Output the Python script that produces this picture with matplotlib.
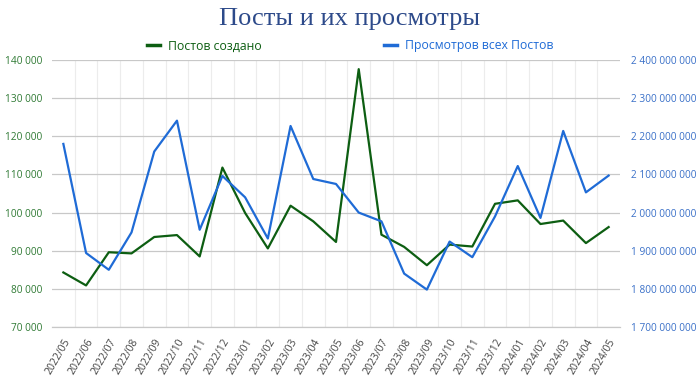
import matplotlib as mpl
mpl.use('Agg')
import matplotlib.pyplot as plt
from matplotlib.ticker import FuncFormatter, MultipleLocator

months = ["2022/05", "2022/06", "2022/07", "2022/08", "2022/09", "2022/10", "2022/11",
          "2022/12", "2023/01", "2023/02", "2023/03", "2023/04", "2023/05", "2023/06",
          "2023/07", "2023/08", "2023/09", "2023/10", "2023/11", "2023/12", "2024/01",
          "2024/02", "2024/03", "2024/04", "2024/05"]

posts = [84300, 80900, 89600, 89300, 93600, 94100, 88500, 111800, 99900, 90600,
         101800, 97700, 92300, 137600, 94200, 91000, 86200, 91600, 91100, 102300,
         103200, 97000, 97900, 92000, 96200]

views = [2180e6, 1894e6, 1850e6, 1948e6, 2160e6, 2241e6, 1955e6, 2096e6, 2040e6, 1932e6,
         2227e6, 2088e6, 2075e6, 2000e6, 1977e6, 1840e6, 1798e6, 1924e6, 1883e6, 1990e6,
         2122e6, 1986e6, 2214e6, 2053e6, 2097e6]

green = "#0d5e12"
blue = "#1f6bd6"
green_lbl = "#2f7a34"
blue_lbl = "#3a70c8"

plt.rcParams['font.family'] = ['Open Sans', 'DejaVu Sans']


def spaced(v, pos=None):
    return "{:,.0f}".format(v).replace(",", " ")


fig = plt.figure(figsize=(7, 3.78), dpi=100)
ax = fig.add_axes([52 / 700, 1 - 327 / 378, 568 / 700, 267 / 378])
ax2 = ax.twinx()

x = list(range(len(months)))
ax.plot(x, posts, color=green, lw=1.6, label="Постов создано", zorder=3)
ax2.plot(x, views, color=blue, lw=1.6, label="Просмотров всех Постов", zorder=3)

ax.set_xlim(-0.5, len(months) - 0.5)
ax.set_ylim(70000, 140000)
ax2.set_ylim(1.7e9, 2.4e9)
ax.yaxis.set_major_locator(MultipleLocator(10000))
ax2.yaxis.set_major_locator(MultipleLocator(1e8))
ax.yaxis.set_major_formatter(FuncFormatter(spaced))
ax2.yaxis.set_major_formatter(FuncFormatter(spaced))

ax.set_xticks(x)
ax.set_xticklabels(months, rotation=60, ha='right', rotation_mode='anchor', fontsize=7.5,
                   color="#444444")
ax.set_xticks([i + 0.5 for i in x[:-1]], minor=True)

ax.grid(axis='y', which='major', color="#c8c8c8", lw=0.9)
ax.grid(axis='x', which='minor', color="#ececec", lw=0.8)
ax.set_axisbelow(True)

for a in (ax, ax2):
    for s in ('top', 'left', 'right'):
        a.spines[s].set_visible(False)
    a.spines['bottom'].set_color("#c8c8c8")
    a.tick_params(length=0)
ax.tick_params(axis='x', which='both', length=0, pad=7)
ax.tick_params(axis='y', labelsize=7.3, labelcolor=green_lbl, pad=7)
ax2.tick_params(axis='y', labelsize=7.3, labelcolor=blue_lbl, pad=8)

fig.text(0.5, 1 - 19 / 378, "Посты и их просмотры", ha='center', va='center',
         fontsize=19, color="#2d4a8a", family=['Liberation Serif', 'DejaVu Serif'])

handles = ax.get_lines() + ax2.get_lines()
leg = fig.legend(handles, [h.get_label() for h in handles], loc='center', ncol=2,
                 bbox_to_anchor=(0.5, 1 - 46 / 378), frameon=False, fontsize=8.8,
                 handlelength=1.05, columnspacing=10, handletextpad=0.65)
for t, c in zip(leg.get_texts(), (green, blue)):
    t.set_color(c)
for h in leg.legend_handles:
    h.set_linewidth(2.5)

fig.savefig("out.png", dpi=100)
